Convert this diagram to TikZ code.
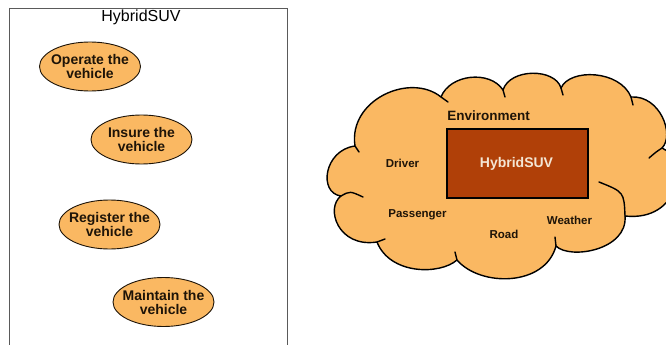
\documentclass[tikz,border=0pt]{standalone}
\usepackage{fontspec}
\setmainfont{Liberation Sans}
\usetikzlibrary{shapes.geometric}
\definecolor{orng}{RGB}{250,184,98}
\definecolor{suvbrown}{RGB}{176,64,8}
\definecolor{inktext}{RGB}{30,20,8}
\definecolor{creamtext}{RGB}{244,230,212}
\definecolor{framegray}{RGB}{90,90,90}
\tikzset{
  usecase/.style={ellipse, draw=inktext, line width=0.9pt, fill=orng,
    minimum width=101pt, minimum height=49pt, inner xsep=-7pt, inner ysep=-2pt, align=center,
    text=inktext, font=\fontsize{14}{14}\selectfont\bfseries},
  cloudlabel/.style={anchor=base, inner sep=0pt, text=inktext,
    font=\fontsize{11.5}{12}\selectfont\bfseries},
  cloudline/.style={line width=1.4pt, draw=black, line cap=round, line join=round},
}
\begin{document}
\begin{tikzpicture}[x=1pt,y=-1pt]
\useasboundingbox (0,0) rectangle (666,345);
\fill[white] (0,0) rectangle (666,345);

% ---- left: system boundary with use cases
\draw[framegray, line width=0.9pt] (9,8) -- (9,360) (9,8) -- (287,8) -- (287,360);
\node[inner sep=0pt, font=\fontsize{16}{16}\selectfont, text=black] (title) at (141,17) {HybridSUV};
\node[usecase] (operate)  at (90,66.5)    {Operate the\\vehicle};
\node[usecase] (insure)   at (141.5,139.5) {Insure the\\vehicle};
\node[usecase] (register) at (109.5,224.5) {Register the\\vehicle};
\node[usecase] (maintain) at (163.5,302)  {Maintain the\\vehicle};

% ---- right: environment cloud
\coordinate (p1) at (341,196);
\coordinate (p2) at (355,146);
\coordinate (p3) at (441,97);
\coordinate (p3b) at (503,90);
\coordinate (p4) at (561,88);
\coordinate (p5) at (631,97);
\coordinate (p6) at (662,148);
\coordinate (p7) at (625,216);
\coordinate (p8) at (556,246);
\coordinate (p9) at (457,260);
\coordinate (p10) at (377,242);
\path[fill=orng] (p1)
  .. controls (318,193) and (324,150) .. (p2)
  .. controls (348,100) and (410,72) .. (p3)
  .. controls (450,74) and (490,70) .. (p3b)
  .. controls (510,68) and (555,68) .. (p4)
  .. controls (570,68) and (620,70) .. (p5)
  .. controls (660,95) and (675,135) .. (p6)
  .. controls (690,160) and (680,222) .. (p7)
  .. controls (628,250) and (570,260) .. (p8)
  .. controls (545,287) and (480,287) .. (p9)
  .. controls (440,275) and (390,275) .. (p10)
  .. controls (338,248) and (325,208) .. (p1) -- cycle;
\draw[cloudline] (p1)
  .. controls (318,193) and (324,150) .. (p2)
  .. controls (348,100) and (410,72) .. (p3)
  .. controls (450,74) and (490,70) .. (p3b)
  .. controls (510,68) and (555,68) .. (p4)
  .. controls (570,68) and (620,70) .. (p5)
  .. controls (660,95) and (675,135) .. (p6)
  .. controls (690,160) and (680,222) .. (p7)
  .. controls (628,250) and (570,260) .. (p8)
  .. controls (545,287) and (480,287) .. (p9)
  .. controls (440,275) and (390,275) .. (p10)
  .. controls (338,248) and (325,208) .. (p1);
% inner strokes at the cusps
\coordinate (i1) at (363,197);
\coordinate (i2) at (359,152);
\coordinate (i3) at (448,102);
\coordinate (i3b) at (505,97);
\coordinate (i4) at (563,95);
\coordinate (i5) at (633,105);
\coordinate (i6) at (649,158);
\coordinate (i7) at (599,182);
\coordinate (i8) at (555,237);
\coordinate (i9) at (455,252);
\coordinate (i10) at (385,239);
\draw[cloudline] (p1) .. controls (350,191) .. (i1);
\draw[cloudline] (p2) -- (i2);
\draw[cloudline] (p3) -- (i3);
\draw[cloudline] (p3b) -- (i3b);
\draw[cloudline] (p4) -- (i4);
\draw[cloudline] (p5) -- (i5);
\draw[cloudline] (p6) .. controls (656,152) .. (i6);
\draw[cloudline] (p7) .. controls (624,192) .. (i7);
\draw[cloudline] (p8) -- (i8);
\draw[cloudline] (p9) -- (i9);
\draw[cloudline] (p10) -- (i10);

\node[draw=black, line width=1.5pt, fill=suvbrown, minimum width=141pt, minimum height=69pt,
  inner sep=0pt, anchor=north west] (suv) at (446,128) {};
\node[inner sep=0pt, anchor=base, text=creamtext, font=\fontsize{14}{14}\selectfont\bfseries]
  (suvlabel) at (516.5,167) {HybridSUV};
\node[cloudlabel, font=\fontsize{13.5}{14}\selectfont\bfseries] (env) at (488.5,120) {Environment};
\node[cloudlabel] (driver) at (402.5,167) {Driver};
\node[cloudlabel] (passenger) at (417.5,217) {Passenger};
\node[cloudlabel] (weather) at (569.5,224) {Weather};
\node[cloudlabel] (road) at (504,238) {Road};
\end{tikzpicture}
\end{document}
